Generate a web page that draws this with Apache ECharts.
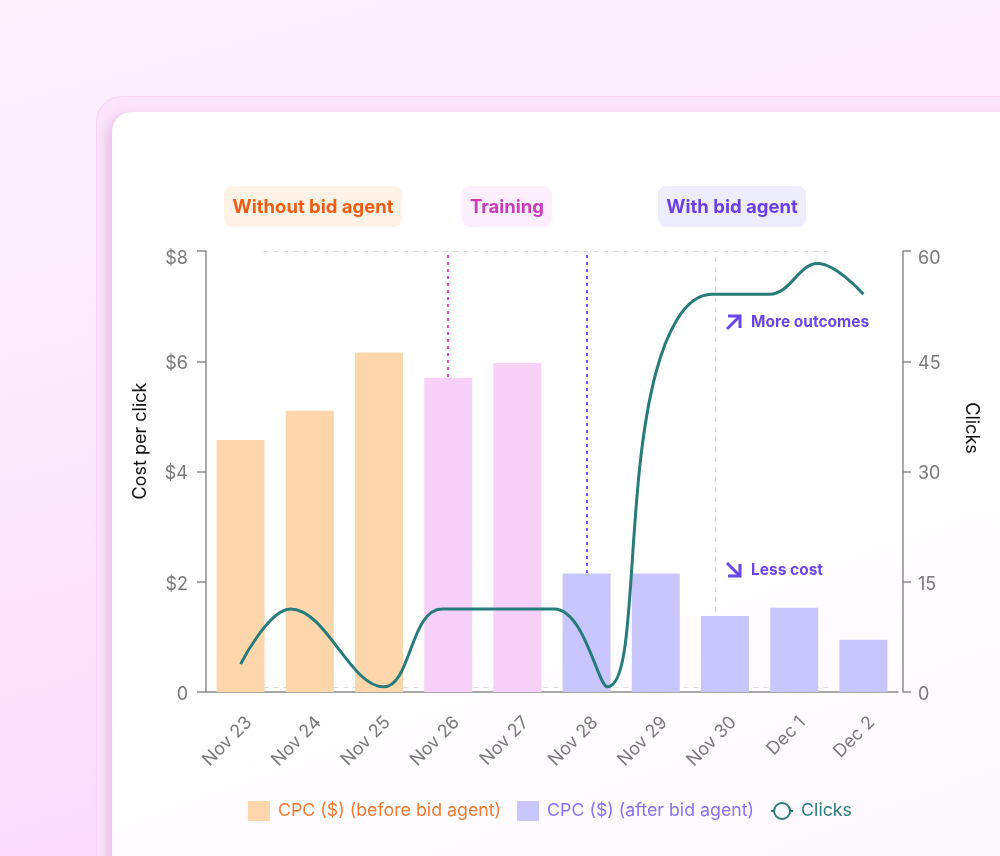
<!DOCTYPE html>
<html>
<head>
<meta charset="utf-8">
<script src="https://cdn.jsdelivr.net/npm/echarts@6/dist/echarts.min.js"></script>
<style>
  html, body { margin: 0; padding: 0; }
  body { width: 1000px; height: 856px; overflow: hidden; position: relative;
    background: linear-gradient(165deg, #fdf3fd 0%, #fce8fc 45%, #f9d4f9 100%); font-family: Inter, sans-serif; }
  #outer { position: absolute; left: 96px; top: 96px; width: 1000px; height: 900px; border-radius: 26px;
    background: #fce5fc; border: 1.5px solid #f7d2f7; box-sizing: border-box; }
  #inner { position: absolute; left: 112px; top: 112px; width: 1000px; height: 900px; border-radius: 20px;
    background: linear-gradient(160deg, #ffffff 0%, #ffffff 45%, #fdf7fd 100%);
    box-shadow: -5px 4px 12px rgba(190, 120, 180, 0.35); }
  #chart { position: absolute; left: 0; top: 0; width: 1000px; height: 856px; }
</style>
</head>
<body>
<div id="outer"></div>
<div id="inner"></div>
<div id="chart"></div>
<script>
// ---- data ----
const categories = ['Nov 23', 'Nov 24', 'Nov 25', 'Nov 26', 'Nov 27', 'Nov 28', 'Nov 29', 'Nov 30', 'Dec 1', 'Dec 2'];
const phase = ['before', 'before', 'before', 'training', 'training', 'after', 'after', 'after', 'after', 'after'];
const cpcBefore = [4.57, 5.10, 6.16, 5.70, 5.97, null, null, null, null, null];
const cpcAfter = [null, null, null, null, null, 2.15, 2.15, 1.38, 1.53, 0.95];
// clicks curve: position along the day axis (0 = Nov 23) and value
const clickPos = [0, 0.72, 2.07, 2.91, 4.53, 5.30, 6.0, 6.81, 7.64, 8.34, 9.0];
const clicks = [3.8, 11.3, 0.7, 11.3, 11.3, 0.7, 43.4, 54.1, 54.1, 58.3, 54.1];
const cpcTicks = { min: 0, max: 8, interval: 2 };
const clickTicks = { min: 0, max: 60, interval: 15 };
// reference lines (day position)
const trainingStart = 3;
const agentStart = 5;
const outcomeMark = 6.86;
const guideTop = 8;
const guideBottom = 0.09;
const phaseLineTop = 8;
const guideFrom = 0.33, guideTo = 8.53;

const C = {
  orange: '#fdd7ab', pink: '#f8d1f9', lav: '#c9c6fd', teal: '#287b7b',
  axis: '#8c8c8c', label: '#7a7a7a'
};
const font = 'Inter, "Noto Sans", sans-serif';

const chart = echarts.init(document.getElementById('chart'), null, { renderer: 'canvas' });

const beforeData = cpcBefore.map((v, i) => v == null ? '-' : {
  value: v, itemStyle: { color: phase[i] === 'training' ? C.pink : C.orange }
});
const afterData = cpcAfter.map(v => v == null ? '-' : v);
const lineData = clickPos.map((p, i) => [p, clicks[i]]);

const yRich = {
  n: { color: C.label, fontSize: 18, fontFamily: font, padding: [5, 0, 0, 0] },
  t: { color: C.label, fontSize: 18, fontFamily: font, padding: [16, 0, 0, 0] }
};

const option = {
  backgroundColor: 'transparent',
  animation: false,
  textStyle: { fontFamily: font },
  grid: { left: 206, right: 102, top: 251, bottom: 164, containLabel: false },
  legend: {
    left: 248, top: 801, padding: 0,
    itemWidth: 22, itemHeight: 20, itemGap: 16,
    textStyle: { fontSize: 17.8, fontFamily: font, padding: [0, 0, 0, 3] },
    data: [
      { name: 'CPC ($) (before bid agent)', icon: 'rect', textStyle: { color: '#f47a30' } },
      { name: 'CPC ($) (after bid agent)', icon: 'rect', textStyle: { color: '#8a70f2' } },
      { name: 'Clicks', textStyle: { color: C.teal } }
    ]
  },
  xAxis: [
    {
      type: 'category', data: categories, boundaryGap: true,
      axisLine: { lineStyle: { color: C.axis, width: 1.5 } },
      axisTick: { alignWithLabel: true, length: 11, lineStyle: { color: C.axis, width: 1.5 } },
      axisLabel: { rotate: 45, margin: 19, fontFamily: font,
        formatter: v => '{a|' + v + '}',
        rich: { a: { color: C.label, fontSize: 18, fontFamily: font, padding: [24, 0, 0, 0] } } },
      splitLine: { show: false }
    },
    { type: 'value', min: -0.5, max: 9.5, show: false }
  ],
  yAxis: [
    {
      type: 'value', min: cpcTicks.min, max: cpcTicks.max, interval: cpcTicks.interval,
      axisLine: { show: true, onZero: false, lineStyle: { color: C.axis, width: 1.5 } },
      axisTick: { show: true, length: 9, lineStyle: { color: C.axis, width: 1.5 } },
      axisLabel: { margin: 18, fontFamily: font, rich: yRich,
        formatter: v => (v === cpcTicks.max ? '{t|' : '{n|') + (v === 0 ? '0' : '$' + v) + '}' },
      splitLine: { show: false }
    },
    {
      type: 'value', min: clickTicks.min, max: clickTicks.max, interval: clickTicks.interval,
      position: 'right', offset: 5,
      axisLine: { show: true, onZero: false, lineStyle: { color: C.axis, width: 1.5 } },
      axisTick: { show: true, length: 8, lineStyle: { color: C.axis, width: 1.5 } },
      axisLabel: { margin: 15, fontFamily: font, rich: yRich,
        formatter: v => (v === clickTicks.max ? '{t|' : '{n|') + v + '}' },
      splitLine: { show: false }
    }
  ],
  series: [
    {
      name: 'guides', type: 'line', xAxisIndex: 1, yAxisIndex: 0, data: [], z: 1, silent: true,
      markLine: {
        z: 1, silent: true, symbol: 'none', label: { show: false }, animation: false,
        data: [
          [{ coord: [guideFrom, guideTop], lineStyle: { color: '#dcdcdc', type: [5, 5], width: 1.2 } }, { coord: [guideTo, guideTop] }],
          [{ coord: [guideFrom, guideBottom], lineStyle: { color: '#dcdcdc', type: [5, 5], width: 1.2 } }, { coord: [guideTo, guideBottom] }],
          [{ coord: [outcomeMark, 0], lineStyle: { color: '#dcdcdc', type: [5, 5], width: 1.2 } }, { coord: [outcomeMark, guideTop] }],
          [{ coord: [trainingStart, 0], lineStyle: { color: '#e24fd6', type: [3, 4], width: 2 } }, { coord: [trainingStart, phaseLineTop] }],
          [{ coord: [agentStart, 0], lineStyle: { color: '#7a55f4', type: [3, 4], width: 2 } }, { coord: [agentStart, phaseLineTop] }],
          [{ coord: [9.5, 0], lineStyle: { color: C.axis, type: 'solid', width: 1.5 } }, { coord: [9.58, 0] }]
        ]
      }
    },
    {
      name: 'CPC ($) (before bid agent)', type: 'bar', xAxisIndex: 0, yAxisIndex: 0,
      stack: 'cpc', barWidth: 48, z: 2, data: beforeData,
      itemStyle: { color: C.orange }
    },
    {
      name: 'CPC ($) (after bid agent)', type: 'bar', xAxisIndex: 0, yAxisIndex: 0,
      stack: 'cpc', barWidth: 48, z: 2, data: afterData,
      itemStyle: { color: C.lav }
    },
    {
      name: 'Clicks', type: 'line', xAxisIndex: 1, yAxisIndex: 1, data: lineData, z: 3,
      smooth: 0.4,
      symbol: 'emptyCircle', symbolSize: 6, showSymbol: false,
      lineStyle: { color: C.teal, width: 3 }, itemStyle: { color: C.teal, borderWidth: 2.5 }
    }
  ],
  graphic: [
    { type: 'text', x: 141, y: 441, rotation: Math.PI / 2, style: { text: 'Cost per click', fill: '#111', font: '18px ' + font, align: 'center', verticalAlign: 'middle' } },
    { type: 'text', x: 971, y: 428, rotation: -Math.PI / 2, style: { text: 'Clicks', fill: '#111', font: '18px ' + font, align: 'center', verticalAlign: 'middle' } },
    { type: 'rect', shape: { x: 224, y: 186, width: 178, height: 41, r: 8 }, style: { fill: '#fff3e8' } },
    { type: 'text', x: 313, y: 207, style: { text: 'Without bid agent', fill: '#f25b12', font: 'bold 18.5px ' + font, align: 'center', verticalAlign: 'middle' } },
    { type: 'rect', shape: { x: 462, y: 186, width: 90, height: 41, r: 8 }, style: { fill: '#fdeffd' } },
    { type: 'text', x: 507, y: 207, style: { text: 'Training', fill: '#c93bb9', font: 'bold 18.5px ' + font, align: 'center', verticalAlign: 'middle' } },
    { type: 'rect', shape: { x: 658, y: 186, width: 148, height: 41, r: 8 }, style: { fill: '#eeedfe' } },
    { type: 'text', x: 732, y: 207, style: { text: 'With bid agent', fill: '#6a3fe6', font: 'bold 18.5px ' + font, align: 'center', verticalAlign: 'middle' } },
    // More outcomes arrow
    { type: 'line', shape: { x1: 727, y1: 329, x2: 740, y2: 316 }, style: { stroke: '#6b46ec', lineWidth: 3 } },
    { type: 'polyline', shape: { points: [[728, 316], [740, 316], [740, 328]] }, style: { stroke: '#6b46ec', lineWidth: 3, fill: null } },
    { type: 'text', x: 751, y: 322, style: { text: 'More outcomes', fill: '#6b46ec', font: 'bold 15.5px ' + font, verticalAlign: 'middle' } },
    // Less cost arrow
    { type: 'line', shape: { x1: 727, y1: 563, x2: 740, y2: 576 }, style: { stroke: '#6b46ec', lineWidth: 3 } },
    { type: 'polyline', shape: { points: [[728, 576], [740, 576], [740, 564]] }, style: { stroke: '#6b46ec', lineWidth: 3, fill: null } },
    { type: 'text', x: 751, y: 570, style: { text: 'Less cost', fill: '#6b46ec', font: 'bold 15.5px ' + font, verticalAlign: 'middle' } }
  ]
};
chart.setOption(option);
</script>
</body>
</html>
